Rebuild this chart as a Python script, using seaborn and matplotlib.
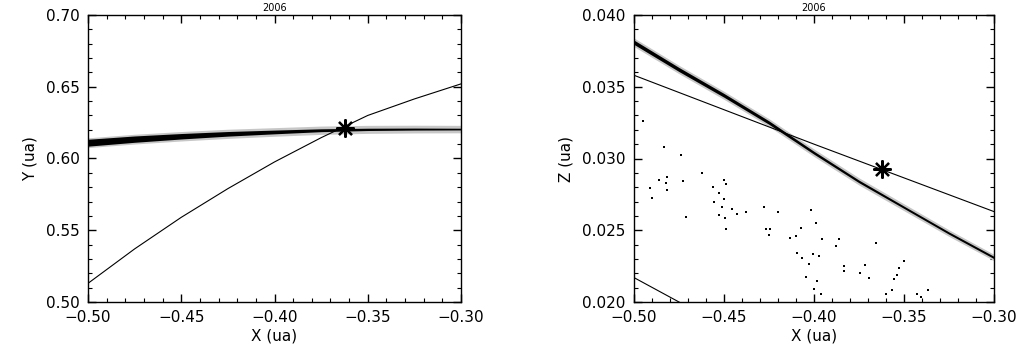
"""
Two-panel IDL-style chart: clone cloud + orbit lines around the nominal position, 2006.
"""
import matplotlib
matplotlib.use("Agg")
import matplotlib.pyplot as plt
import matplotlib.ticker as mticker
import pandas as pd
import seaborn as sns

# ---------- data ----------
BAND_X = [-0.50, -0.475, -0.45, -0.425, -0.40, -0.375, -0.35, -0.325, -0.30]

# left panel (X, Y): clone band centre / half widths
Y_BAND = [0.6110, 0.6135, 0.6155, 0.6172, 0.6185, 0.6197, 0.6203, 0.6205, 0.6205]
Y_CORE = [0.0024, 0.0022, 0.0019, 0.0016, 0.0013, 0.0010, 0.0008, 0.0007, 0.0006]
Y_HALO = [0.0034, 0.0034, 0.0033, 0.0032, 0.0030, 0.0029, 0.0028, 0.0027, 0.0026]

# left panel orbit line
Y_LINE_X = [-0.50, -0.475, -0.45, -0.425, -0.40, -0.375, -0.35, -0.325, -0.30]
Y_LINE = [0.513, 0.537, 0.559, 0.579, 0.5976, 0.6145, 0.630, 0.6415, 0.652]

# right panel (X, Z): clone band
Z_BAND = [0.0381, 0.0362, 0.0344, 0.0325, 0.0304, 0.0284, 0.0266, 0.0248, 0.0231]
Z_CORE = [0.00015, 0.00014, 0.00013, 0.00012, 0.00010, 0.00009, 0.00008, 0.00008, 0.00008]
Z_HALO = [0.00030, 0.00029, 0.00028, 0.00027, 0.00026, 0.00025, 0.00024, 0.00023, 0.00022]

# right panel orbit lines
Z_LINE1_X = [-0.50, -0.40, -0.30]
Z_LINE1 = [0.0358, 0.0310, 0.0263]
Z_LINE2_X = [-0.50, -0.45]
Z_LINE2 = [0.0217, 0.0183]

# right panel scattered clones
DOTS_X = [-0.4948, -0.4832, -0.4737, -0.4621, -0.4859, -0.4815, -0.4821, -0.4815,
          -0.4909, -0.4898, -0.4726, -0.4709, -0.4498, -0.4487, -0.4559, -0.4526,
          -0.4498, -0.4554, -0.4509, -0.4454, -0.4426, -0.4376, -0.4526, -0.4493,
          -0.4487, -0.4276, -0.4198, -0.4015, -0.3987, -0.4265, -0.4243, -0.4250,
          -0.4071, -0.4132, -0.4099, -0.3954, -0.3859, -0.3876, -0.3654, -0.4093,
          -0.4065, -0.4004, -0.3971, -0.4026, -0.3832, -0.3832, -0.3715, -0.3743,
          -0.3693, -0.4043, -0.3982, -0.3998, -0.3959, -0.3498, -0.3526, -0.3537,
          -0.3554, -0.3565, -0.3365, -0.3598, -0.3426, -0.3404]
DOTS_Z = [0.03259, 0.03078, 0.03022, 0.02897, 0.02848, 0.02869, 0.02827, 0.02778,
          0.02792, 0.02723, 0.02841, 0.02590, 0.02848, 0.02820, 0.02799, 0.02757,
          0.02716, 0.02695, 0.02660, 0.02646, 0.02615, 0.02625, 0.02604, 0.02583,
          0.02507, 0.02660, 0.02625, 0.02639, 0.02548, 0.02507, 0.02507, 0.02465,
          0.02514, 0.02444, 0.02458, 0.02437, 0.02437, 0.02388, 0.02409, 0.02339,
          0.02305, 0.02332, 0.02319, 0.02263, 0.02249, 0.02214, 0.02256, 0.02200,
          0.02165, 0.02172, 0.02144, 0.02089, 0.02054, 0.02284, 0.02235, 0.02186,
          0.02158, 0.02082, 0.02082, 0.02054, 0.02054, 0.02033]

# nominal position (asterisk)
STAR_X = -0.362
STAR_Y = 0.621
STAR_Z = 0.0293

TITLE = "2006"

# ---------- style ----------
sns.set_theme(style="ticks")
plt.rcParams["font.family"] = ["DejaVu Sans"]
plt.rcParams["axes.linewidth"] = 1.0

W, H = 1023, 352
fig = plt.figure(figsize=(W / 100, H / 100), dpi=100)
ax1 = fig.add_axes([88 / W, 50 / H, 373 / W, 287 / H])
ax2 = fig.add_axes([634 / W, 50 / H, 360 / W, 287 / H])


def draw_band(ax, xs, centre, core, halo):
    lo = [c - h for c, h in zip(centre, halo)]
    hi = [c + h for c, h in zip(centre, halo)]
    ax.fill_between(xs, lo, hi, color="0.78", lw=0, zorder=1)
    lo = [c - h for c, h in zip(centre, core)]
    hi = [c + h for c, h in zip(centre, core)]
    ax.fill_between(xs, lo, hi, color="black", lw=0, zorder=2)


def style_axis(ax, ylim, ymajor, yminor, ylabel, yfmt):
    ax.set_xlim(-0.50, -0.30)
    ax.set_ylim(*ylim)
    ax.xaxis.set_major_locator(mticker.MultipleLocator(0.05))
    ax.xaxis.set_minor_locator(mticker.MultipleLocator(0.01))
    ax.yaxis.set_major_locator(mticker.MultipleLocator(ymajor))
    ax.yaxis.set_minor_locator(mticker.MultipleLocator(yminor))
    ax.xaxis.set_major_formatter(mticker.FuncFormatter(lambda v, p: f"{v:.2f}".replace("-", "\u2212")))
    ax.yaxis.set_major_formatter(mticker.FormatStrFormatter(yfmt))
    ax.tick_params(which="both", direction="in", top=True, right=True, color="black",
                   labelsize=11, labelcolor="black", pad=6)
    ax.tick_params(which="major", length=6, width=1)
    ax.tick_params(which="minor", length=3, width=0.8)
    for s in ax.spines.values():
        s.set_visible(True)
        s.set_color("black")
    ax.set_xlabel("X (ua)", fontsize=11, labelpad=2, color="black")
    ax.set_ylabel(ylabel, fontsize=11, labelpad=6, color="black")
    ax.set_title(TITLE, fontsize=7, pad=3, color="black")
    ax.set_facecolor("white")


# ---------- left: X vs Y ----------
draw_band(ax1, BAND_X, Y_BAND, Y_CORE, Y_HALO)
sns.lineplot(x=Y_LINE_X, y=Y_LINE, ax=ax1, color="black", lw=0.8, sort=False, zorder=3)
ax1.plot([STAR_X], [STAR_Y], marker=(8, 2, 0), ms=13, mew=1.6, color="black", zorder=5)
style_axis(ax1, (0.50, 0.70), 0.05, 0.01, "Y (ua)", "%.2f")

# ---------- right: X vs Z ----------
draw_band(ax2, BAND_X, Z_BAND, Z_CORE, Z_HALO)
sns.lineplot(x=Z_LINE1_X, y=Z_LINE1, ax=ax2, color="black", lw=0.8, sort=False, zorder=3)
sns.lineplot(x=Z_LINE2_X, y=Z_LINE2, ax=ax2, color="black", lw=0.8, sort=False, zorder=3)
dots = pd.DataFrame({"x": DOTS_X, "z": DOTS_Z})
sns.scatterplot(data=dots, x="x", y="z", ax=ax2, color="black", s=1.5, marker="s",
                linewidth=0, zorder=4)
ax2.plot([STAR_X], [STAR_Z], marker=(8, 2, 0), ms=13, mew=1.6, color="black", zorder=5)
style_axis(ax2, (0.020, 0.040), 0.005, 0.001, "Z (ua)", "%.3f")

fig.savefig("out.png", dpi=100, facecolor="white")
